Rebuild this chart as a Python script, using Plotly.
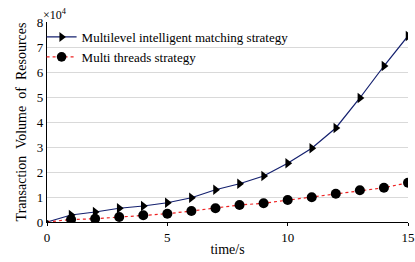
import plotly.graph_objects as go

time_s = list(range(16))
multilevel = [0, 2800, 4000, 5500, 6400, 7700, 9700, 12900, 15300, 18400, 23500, 29500, 37600, 49600, 62400, 74400]
multithread = [0, 1000, 1300, 2000, 2700, 3300, 4400, 5500, 6800, 7500, 8800, 9900, 11300, 12700, 13700, 15700]
y_ticks = [0, 1, 2, 3, 4, 5, 6, 7, 8]
x_ticks = [0, 5, 10, 15]

FONT = "Liberation Serif, DejaVu Serif, serif"

fig = go.Figure()
fig.add_trace(go.Scatter(
    x=time_s, y=multilevel, mode="lines+markers",
    name="Multilevel intelligent matching strategy",
    line=dict(color="#14206e", width=1.2),
    marker=dict(symbol="triangle-right", color="black", opacity=1,
                size=[3] + [9] * 15, line=dict(width=0)),
))
fig.add_trace(go.Scatter(
    x=time_s, y=multithread, mode="lines+markers",
    name="Multi threads strategy",
    line=dict(color="#ee2222", width=1.2, dash="dot"),
    marker=dict(symbol="circle", color="black", opacity=1,
                size=[4] + [10] * 15, line=dict(width=0)),
))

fig.update_layout(
    width=415, height=262,
    margin=dict(l=47, r=7, t=22, b=40),
    plot_bgcolor="white", paper_bgcolor="white",
    font=dict(family=FONT, size=13, color="black"),
    showlegend=True,
    legend=dict(x=-0.015, y=1.0, xanchor="left", yanchor="top",
                bgcolor="rgba(0,0,0,0)", font=dict(size=13),
                itemwidth=30, tracegroupgap=0),
    xaxis=dict(range=[0, 15], tickvals=x_ticks, showgrid=False,
               showline=True, linecolor="black", linewidth=1.2,
               ticks="outside", ticklen=3, tickcolor="black",
               zeroline=False, ticklabeloverflow="allow", automargin=False,
               title=dict(text="time/s", standoff=0, font=dict(size=14))),
    yaxis=dict(range=[0, 80000], tickvals=[v * 10000 for v in y_ticks],
               ticktext=[str(v) for v in y_ticks],
               showgrid=True, gridcolor="#d9d9d9", gridwidth=1,
               showline=True, linecolor="black", linewidth=1.2,
               zeroline=False, ticks="", automargin=False,
               title=dict(text="Transaction  Volume  of  Resources", standoff=6,
                          font=dict(size=14))),
)
fig.add_annotation(x=0, y=1, xref="paper", yref="paper", xanchor="left",
                   yanchor="bottom", showarrow=False,
                   text="\u00d710<sup>4</sup>", font=dict(size=12), xshift=-6, yshift=-2)

fig.write_html("out.html", config={"displayModeBar": False},
               post_script="document.body.style.margin='0';")
